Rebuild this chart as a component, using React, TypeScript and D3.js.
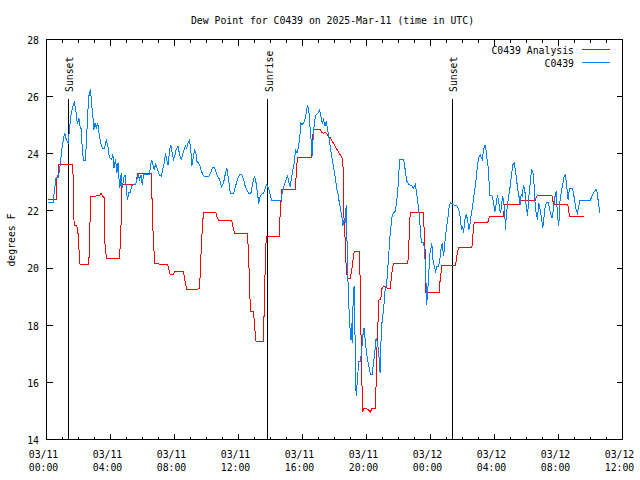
import React from 'react';
import * as d3 from 'd3';

// minutes after 2025-03-11 00:00 UTC, dew point (F)
const stationLabel = 'C0439';
const analysisLabel = 'C0439 Analysis';
const titleText = 'Dew Point for C0439 on 2025-Mar-11 (time in UTC)';
const yLabel = 'degrees F';
const yTicks = [14, 16, 18, 20, 22, 24, 26, 28];

const stationObs: [number, number][] = [
  [5,22.28],[26,22.3],[29,22.69],[36,23.16],[44,23.16],[49,23.45],[59,24.27],[68,24.73],[74,24.5],[81,24.38],[86,24.85],[91,25.3],[99,25.67],[105,25.8],[111,25.43],[116,25.03],[121,25.26],[126,24.97],[131,24.85],[134,24.15],[139,23.78],[146,23.78],[150,24.5],[155,25.49],[159,26.02],[165,26.27],[169,25.78],[174,25.3],[178,24.85],[182,25.08],[187,24.9],[192,25.08],[197,24.73],[203,24.38],[209,24.2],[218,24.2],[224,24.5],[230,24.27],[236,23.86],[244,23.8],[249,23.98],[253,23.51],[259,23.8],[264,23.33],[268,23.69],[271,23.22],[275,22.81],[280,23.33],[284,22.81],[290,23.16],[295,23.27],[299,22.87],[303,22.4],[309,22.63],[314,22.63],[319,22.87],[326,22.93],[334,22.93],[339,23.1],[344,23.27],[349,23.1],[354,23.27],[359,22.9],[364,23.27],[386,23.27],[390,23.57],[394,23.78],[399,23.63],[404,23.45],[409,23.63],[414,23.51],[419,23.39],[424,23.24],[431,23.22],[436,23.45],[443,23.74],[446,24.03],[451,23.8],[456,23.6],[461,24.09],[466,24.32],[471,24.03],[476,23.8],[481,23.92],[486,24.15],[493,24.27],[499,23.98],[505,23.8],[511,23.98],[516,24.15],[521,24.27],[526,24.2],[531,24.38],[536,24.48],[541,24.15],[545,23.57],[549,23.8],[555,24.13],[561,23.98],
  [564,23.74],[574,23.62],[579,23.45],[586,23.27],[595,23.19],[608,23.19],[616,23.33],[624,23.54],[631,23.51],[639,23.27],[649,23.1],[656,22.84],[664,22.98],[670,23.27],[676,23.51],[683,23.1],[689,22.63],[701,22.6],[709,22.87],[716,23.1],[724,23.27],[733,23.27],[739,23.1],[745,22.87],[751,22.75],[759,22.6],[766,22.6],[774,22.98],[780,23.22],[786,22.98],[791,22.63],[796,22.26],[801,22.52],[806,22.57],[814,22.63],[821,22.81],[826,22.92],[834,22.75],[839,22.57],[845,22.36],[864,22.36],[879,22.36],[884,22.63],[891,22.87],[899,23.1],[904,23.22],[909,22.98],[914,22.87],[919,23.16],[924,23.45],[929,23.68],[934,24.15],[939,24.03],[944,24.21],[949,24.5],[954,25.08],[959,25.02],[964,25.08],[969,25.2],[974,25.43],[979,25.72],[984,25.49],[989,24.85],[994,24.27],[996,23.92],[1001,24.73],[1006,25.2],[1011,25.37],[1019,25.43],[1024,25.53],[1029,25.32],[1034,25.08],[1039,25.2],[1044,24.97],[1049,25.14],[1054,24.85],[1059,24.56],[1064,24.27],[1069,23.92],[1074,23.68],[1079,23.39],[1084,23.1],[1089,22.75],[1094,22.57],[1099,22.22],
  [1101,22.17],[1108,21.76],[1111,21.47],[1116,21.7],[1120,21.58],[1124,22.22],[1126,21.35],[1129,19.95],[1133,18.9],[1136,18.2],[1141,17.5],[1144,18.08],[1146,17.38],[1151,19.25],[1154,19.37],[1156,18.08],[1159,16.68],[1161,15.52],[1166,16.1],[1171,16.74],[1176,16.74],[1181,17.03],[1186,17.62],[1191,17.91],[1196,17.38],[1201,16.97],[1206,16.68],[1211,16.45],[1216,16.27],[1221,16.27],[1226,16.68],[1231,17.03],[1236,17.56],[1241,17.38],[1246,17.03],[1251,16.33],[1254,17.38],[1258,18.08],[1264,18.55],[1270,19.25],[1276,19.48],[1283,20.42],[1289,21.23],[1295,21.76],[1301,21.93],[1308,21.99],[1314,22.4],[1319,22.92],[1324,23.8],[1339,23.8],[1345,23.45],[1351,23.04],[1359,22.92],[1370,22.87],[1376,22.81],[1383,22.92],[1386,22.75],[1391,22.4],[1396,22.05],[1401,21.47],[1406,20.88],[1414,20.88],[1418,20.65],[1423,19.54],[1426,18.72],[1429,19.25],[1433,19.54],[1436,20.42],[1441,20.65],[1445,20.88],[1449,20.3],[1454,20.07],[1459,19.89],[1464,20.07],[1469,20.07],[1474,20.18],[1479,20.65],[1484,20.88],[1489,20.42],[1493,20.77],[1496,21.12],[1501,21.47],[1506,21.82],[1511,22.22],[1516,22.28],[1526,22.22],[1539,22.17],[1546,22.05],[1551,21.82],[1556,21.35],[1560,21.47],[1564,21.23],[1569,21.7],[1574,21.87],[1579,21.7],[1584,21.35],[1589,21.58],
  [1591,21.76],[1596,22.05],[1601,22.4],[1606,22.75],[1611,23.1],[1616,23.57],[1621,23.86],[1626,23.97],[1630,23.86],[1634,23.8],[1639,24.15],[1644,24.32],[1648,24.15],[1651,23.86],[1655,23.68],[1659,23.1],[1663,22.54],[1670,22.54],[1674,22.4],[1678,22.17],[1681,21.96],[1686,22.22],[1691,22.54],[1695,22.4],[1699,22.05],[1703,21.93],[1706,22.17],[1710,22.52],[1714,22.34],[1718,22.05],[1721,21.35],[1725,21.93],[1729,22.22],[1734,22.57],[1739,22.87],[1744,23.27],[1749,23.62],[1754,23.68],[1758,23.45],[1761,23.22],[1765,22.92],[1769,22.63],[1773,22.46],[1776,22.22],[1780,22.57],[1784,22.52],[1789,22.92],[1794,22.69],[1799,22.17],[1804,21.82],[1809,22.52],[1814,22.98],[1819,23.45],[1824,23.39],[1828,22.98],[1831,22.4],[1836,21.93],[1841,21.7],[1846,22.28],[1851,22.05],[1856,21.76],[1861,21.41],[1866,21.82],[1871,22.22],[1876,22.28],[1881,22.31],[1886,22.11],[1891,21.87],[1896,21.76],[1901,22.05],[1906,22.46],[1911,22.69],[1916,21.87],[1921,21.47],[1926,22.4],[1931,22.69],[1936,22.92],[1941,23.22],[1946,23.27],[1951,22.87],[1956,22.4],[1961,22.8],[1966,22.8],[1971,22.8],[1976,22.63],[1981,22.34],[1986,22.05],[1991,21.93],[1996,22.17],[2001,22.38],[2014,22.38],[2026,22.38],[2039,22.38],[2046,22.52],[2051,22.63],[2056,22.69],[2061,22.77],[2065,22.63],[2069,22.34],[2073,22.05],[2075,21.93]
];

const analysisObs: [number, number][] = [
  [5,22.4],[36,22.4],[37,23.16],[43,23.16],[44,23.62],[99,23.62],[101,22.1],[104,21.5],[114,21.5],[117,21.2],[120,21.2],[122,20.6],[126,20.11],[159,20.11],[160,20.7],[162,21.2],[164,21.9],[166,22.5],[185,22.52],[200,22.55],[205,22.62],[210,22.52],[217,22.45],[219,20.88],[225,20.32],[274,20.32],[276,20.74],[280,21.64],[282,22.92],[335,22.92],[338,23.1],[341,23.3],[394,23.3],[397,21.76],[402,20.77],[406,20.16],[455,20.11],[459,19.95],[464,19.76],[476,19.76],[479,19.87],[514,19.87],[518,19.6],[523,19.37],[526,19.25],[574,19.27],[576,19.72],[580,20.63],[585,21.52],[589,21.96],[635,21.96],[639,21.79],[646,21.66],[695,21.66],[699,21.47],[705,21.21],[754,21.21],[756,20.77],[760,19.86],[763,18.96],[766,18.47],[776,18.47],[779,18.18],[783,17.67],[786,17.42],[814,17.42],[815,18.02],[818,19.25],[821,20.3],[824,21.09],[874,21.12],[876,21.93],[883,22.75],[934,22.75],[936,23.22],[941,23.86],[994,23.86],[996,24.33],[1001,24.85],[1026,24.85],[1033,24.75],[1039,24.71],[1045,24.75],[1051,24.72],[1058,24.6],[1064,24.56],[1076,24.37],[1089,24.16],[1101,23.97],[1111,23.8],[1113,23.22],[1116,21.58],[1120,21.0],[1124,19.95],[1129,19.62],[1139,19.62],[1145,19.95],[1149,20.24],[1154,20.57],[1174,20.57],[1176,19.6],[1179,17.85],[1183,15.98],[1185,14.96],[1189,15.07],[1201,15.07],[1208,15.03],[1214,14.96],[1220,15.07],[1234,15.07],[1236,15.98],[1239,17.15],[1244,18.3],[1246,18.88],[1254,18.9],[1256,19.25],[1264,19.37],[1274,19.37],[1279,19.27],[1289,19.27],[1295,19.83],[1301,20.16],[1355,20.16],[1359,20.88],[1364,21.96],[1414,21.96],[1416,21.35],[1420,20.53],[1423,19.13],[1474,19.13],[1476,19.6],[1483,20.09],[1534,20.09],[1539,20.42],[1545,20.71],[1595,20.71],[1599,21.12],[1601,21.41],[1604,21.58],[1654,21.58],[1658,21.7],[1661,21.82],[1714,21.82],[1718,22.22],[1774,22.22],[1776,22.38],[1833,22.38],[1836,22.46],[1841,22.54],[1895,22.54],[1899,22.34],[1904,22.22],[1955,22.22],[1959,21.98],[1961,21.79],[2014,21.79]
];

const sunEvents: [number, string][] = [[82, 'Sunset'], [829, 'Sunrise'], [1522, 'Sunset']];

const BASE = Date.UTC(2025, 2, 11);
const toDate = (m: number) => new Date(BASE + m * 60000);
const FONT = "'DejaVu Sans Mono', monospace";

export default function App() {
  const x = d3.scaleUtc().domain([toDate(0), toDate(36 * 60)]).range([46.5, 622.5]);
  const y = d3.scaleLinear().domain([14, 28]).range([439.5, 39.5]);
  const line = d3.line<[number, number]>().x(d => x(toDate(d[0]))).y(d => y(d[1]));
  const major = x.ticks(d3.utcHour.every(4)!);
  const minor = x.ticks(d3.utcHour.every(1)!);
  const fDay = d3.utcFormat('%m/%d');
  const fHour = d3.utcFormat('%H:%M');
  const [x0, x1] = x.range();
  const [yb, yt] = y.range();
  const snap = (v: number) => Math.round(v - 0.5) + 0.5;
  return (
    <svg width={640} height={480} style={{ position: 'absolute', left: 0, top: 0, background: '#fff' }}
      fontFamily={FONT} fontSize={9.8}>
      <rect width={640} height={480} fill="#fff" />
      <text x={332.5} y={23.5} textAnchor="middle">{titleText}</text>
      <g shapeRendering="crispEdges" stroke="#000" strokeWidth={1}>
        {minor.map((d, i) => {
          const isMajor = d.getUTCHours() % 4 === 0;
          const len = isMajor ? 6 : 3;
          const px = snap(x(d));
          return (
            <g key={i}>
              <line x1={px} x2={px} y1={yb} y2={yb - len} />
              <line x1={px} x2={px} y1={yt} y2={yt + len} />
            </g>
          );
        })}
        {yTicks.map((t, i) => (
          <g key={i}>
            <line x1={x0} x2={x0 + 6} y1={snap(y(t))} y2={snap(y(t))} />
            <line x1={x1} x2={x1 - 6} y1={snap(y(t))} y2={snap(y(t))} />
          </g>
        ))}
        {sunEvents.map(([m], i) => {
          const px = snap(x(toDate(m)));
          return <line key={i} x1={px} x2={px} y1={99} y2={yb} />;
        })}
        <rect x={x0} y={yt} width={x1 - x0} height={yb - yt} fill="none" />
      </g>
      {yTicks.map((t, i) => (
        <text key={i} x={39} y={y(t) + 4.3} textAnchor="end">{t}</text>
      ))}
      {major.map((d, i) => (
        <g key={i}>
          <text x={x(d) - 3} y={458} textAnchor="middle">{fDay(d)}</text>
          <text x={x(d) - 3} y={470.5} textAnchor="middle">{fHour(d)}</text>
        </g>
      ))}
      {sunEvents.map(([m, label], i) => (
        <text key={i} transform={`translate(${x(toDate(m)) + 5},92) rotate(-90)`} textAnchor="start">{label}</text>
      ))}
      <text transform="translate(15,240) rotate(-90)" textAnchor="middle">{yLabel}</text>
      <g shapeRendering="crispEdges" fill="none" strokeWidth={1}>
        <path d={line(analysisObs) || ''} stroke="#ff0000" />
        <path d={line(stationObs) || ''} stroke="#0080ff" />
      </g>
      <text x={574} y={54} textAnchor="end">{analysisLabel}</text>
      <line x1={582} x2={610} y1={49.5} y2={49.5} stroke="#ff0000" shapeRendering="crispEdges" />
      <text x={574} y={67} textAnchor="end">{stationLabel}</text>
      <line x1={582} x2={610} y1={62.5} y2={62.5} stroke="#0080ff" shapeRendering="crispEdges" />
    </svg>
  );
}
